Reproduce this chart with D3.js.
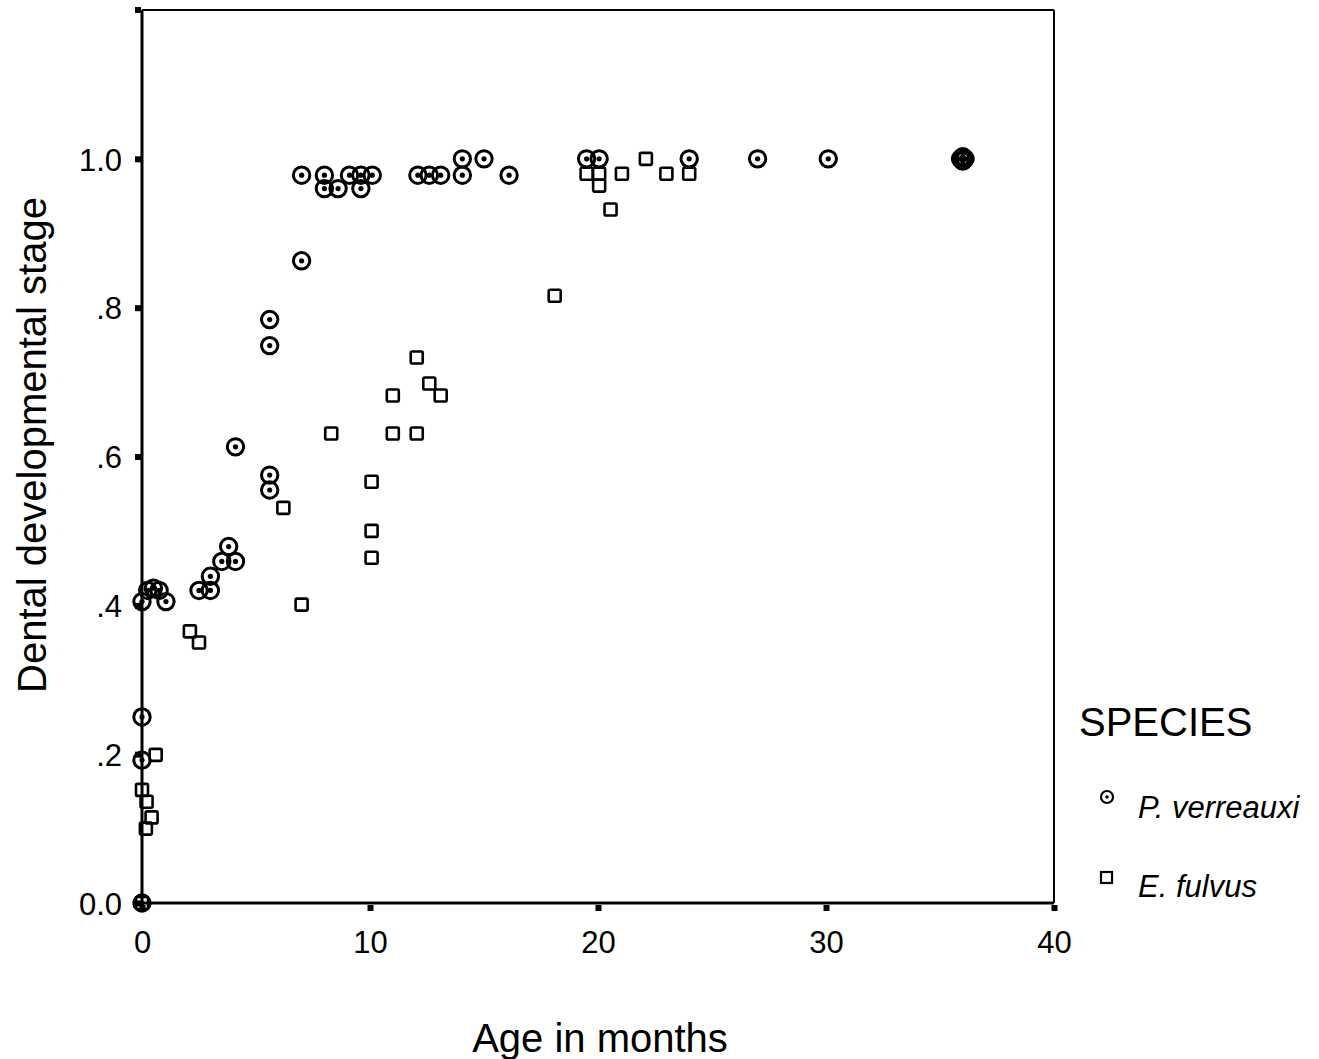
<!DOCTYPE html>
<html><head><meta charset="utf-8">
<script src="https://cdn.jsdelivr.net/npm/d3@7"></script>
<style>body{margin:0;background:#fff}svg{display:block}text{font-family:"Liberation Sans",Arial,sans-serif;fill:#000}</style>
</head><body>
<script>
const verreauxiX = [0,0,0,0.25,0.5,0.75,0,1.05,2.5,3.0,3.0,3.5,4.1,3.8,4.1,5.6,5.6,5.6,5.6,7.0,7.0,8.0,8.0,8.6,9.1,9.6,10.1,9.6,12.1,12.6,13.1,14.05,14.05,15.0,16.1,19.5,20.05,24.0,27.0,30.1,35.9,36.0,36.1,36.0,36.0];
const verreauxiY = [0,0.192,0.25,0.42,0.423,0.42,0.405,0.405,0.42,0.42,0.439,0.459,0.459,0.479,0.613,0.784,0.749,0.575,0.555,0.863,0.978,0.978,0.96,0.96,0.978,0.978,0.978,0.96,0.978,0.978,0.978,1.0,0.978,1.0,0.978,1.0,1.0,1.0,1.0,1.0,1.0,1.0,1.0,0.997,1.003];
const fulvusX = [0,0,0.2,0.42,0.17,0.6,2.1,2.5,7.0,6.2,10.07,10.07,10.07,8.3,11.0,12.05,11.0,12.05,12.6,13.1,18.1,19.5,20.05,20.05,20.55,21.05,22.1,23.0,24.0];
const fulvusY = [0,0.152,0.136,0.115,0.1,0.199,0.365,0.35,0.401,0.531,0.566,0.5,0.464,0.631,0.631,0.631,0.682,0.733,0.698,0.682,0.816,0.98,0.98,0.964,0.932,0.98,1.0,0.98,0.98];
const xTicks = [0,10,20,30,40];
const yTicks = [0,0.2,0.4,0.6,0.8,1.0];
const yTickLabels = ["0.0",".2",".4",".6",".8","1.0"];
const speciesNames = ["P. verreauxi","E. fulvus"];

const W=1319,H=1059;
const svg=d3.select("body").append("svg").attr("width",W).attr("height",H);
const L=142,R=1054,T=10,B=903;
const x=d3.scaleLinear().domain([0,40]).range([L,R]);
const y=d3.scaleLinear().domain([0,1.2]).range([B,T]);

// frame
svg.append("line").attr("x1",L).attr("x2",R).attr("y1",T).attr("y2",T).attr("stroke","#000").attr("stroke-width",2);
svg.append("line").attr("x1",R).attr("x2",R).attr("y1",T).attr("y2",B).attr("stroke","#000").attr("stroke-width",2);

// axes
const yAxis=d3.axisLeft(y).tickValues(yTicks).tickSize(0).tickFormat((d,i)=>yTickLabels[i]);
const gy=svg.append("g").attr("transform",`translate(${L},0)`).call(yAxis);
gy.attr("font-size",null).attr("font-family",null);
gy.select(".domain").attr("stroke","#000").attr("stroke-width",3).attr("d",`M0,${B}V${T}`);
gy.selectAll(".tick text").style("font-size","31px").attr("dy","0.36em").attr("x",-20);
gy.selectAll(".tick").append("rect").attr("x",-7).attr("y",-3).attr("width",6).attr("height",6).attr("fill","#000");
gy.append("rect").attr("x",-7).attr("y",T-3).attr("width",6).attr("height",6).attr("fill","#000");

const xAxis=d3.axisBottom(x).tickValues(xTicks).tickSize(0);
const gx=svg.append("g").attr("transform",`translate(0,${B})`).call(xAxis);
gx.attr("font-size",null).attr("font-family",null);
gx.select(".domain").attr("stroke","#000").attr("stroke-width",3).attr("d",`M${L},0H${R}`);
gx.selectAll(".tick text").style("font-size","31px").attr("dy",null).attr("y",50);
gx.selectAll(".tick").append("rect").attr("x",-3).attr("y",2).attr("width",6).attr("height",6).attr("fill","#000");

// points
const pv=verreauxiX.map((v,i)=>({x:v,y:verreauxiY[i]}));
const ef=fulvusX.map((v,i)=>({x:v,y:fulvusY[i]}));
const g=svg.append("g");
g.selectAll("rect.ef").data(ef).enter().append("rect").attr("class","ef")
  .attr("x",d=>x(d.x)-6).attr("y",d=>y(d.y)-6).attr("width",12).attr("height",12).attr("rx",1.5)
  .attr("fill","none").attr("stroke","#000").attr("stroke-width",2.6);
g.selectAll("circle.pvo").data(pv).enter().append("circle").attr("class","pvo")
  .attr("cx",d=>x(d.x)).attr("cy",d=>y(d.y)).attr("r",8.2).attr("fill","none").attr("stroke","#000").attr("stroke-width",3);
g.selectAll("circle.pvi").data(pv).enter().append("circle").attr("class","pvi")
  .attr("cx",d=>x(d.x)).attr("cy",d=>y(d.y)).attr("r",2.6).attr("fill","#000");

// titles
svg.append("text").attr("transform",`translate(46,${445}) rotate(-90)`).attr("text-anchor","middle").style("font-size","40px").text("Dental developmental stage");
svg.append("text").attr("x",600).attr("y",1052).attr("text-anchor","middle").style("font-size","40px").text("Age in months");

// legend
svg.append("text").attr("x",1079).attr("y",736).style("font-size","40px").text("SPECIES");
const lg=svg.append("g");
lg.append("circle").attr("cx",1107).attr("cy",797).attr("r",6).attr("fill","none").attr("stroke","#000").attr("stroke-width",2.2);
lg.append("circle").attr("cx",1107).attr("cy",797).attr("r",1.8).attr("fill","#000");
lg.append("rect").attr("x",1101).attr("y",872).attr("width",11).attr("height",11).attr("fill","none").attr("stroke","#000").attr("stroke-width",2.2);
lg.append("text").attr("x",1138).attr("y",818).style("font-size","31px").attr("font-style","italic").text(speciesNames[0]);
lg.append("text").attr("x",1138).attr("y",897).style("font-size","31px").attr("font-style","italic").text(speciesNames[1]);
</script>
</body></html>
